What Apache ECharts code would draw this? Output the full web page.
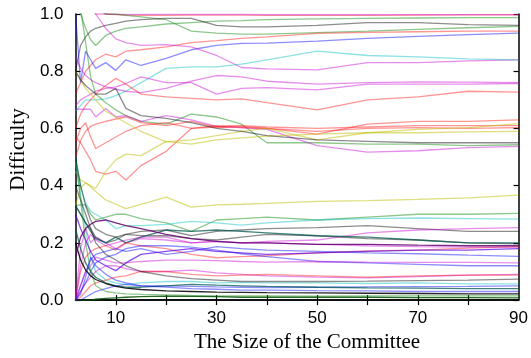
<!DOCTYPE html>
<html>
<head>
<meta charset="utf-8">
<script src="https://cdn.jsdelivr.net/npm/echarts@6/dist/echarts.min.js"></script>
<style>
  html, body { margin: 0; padding: 0; background: #fff; }
  #chart { width: 531px; height: 358px; }
</style>
</head>
<body>
<div id="chart"></div>
<script>
// committee sizes where values were read
const xs = [2, 3, 4, 5, 6, 8, 10, 12, 15, 20, 25, 30, 35, 40, 50, 60, 70, 80, 90];
const xLabels = [10, 30, 50, 70, 90];
const xTicks = [10, 20, 30, 40, 50, 60, 70, 80];

// upper group
const redTop = [1.2, 1.15, 1.1, 1.05, 1.02, 1.0, 0.998, 0.996, 0.995, 0.995, 0.996, 0.996, 0.996, 0.995, 0.995, 0.995, 0.996, 0.997, 0.997];
const magTop = [1.2, 1.1, 1.05, 1.02, 1.0, 1.0, 0.999, 0.999, 0.999, 0.999, 0.999, 0.999, 0.999, 0.998, 0.998, 0.998, 0.998, 0.998, 0.998];
const greenA = [1.05, 1.0, 0.95, 0.91, 0.89, 0.925, 0.94, 0.95, 0.955, 0.965, 0.97, 0.975, 0.977, 0.98, 0.983, 0.985, 0.986, 0.987, 0.987];
const greenB = [1.1, 1.08, 1.06, 1.04, 1.02, 1.0, 1.0, 0.995, 0.99, 0.98, 0.94, 0.933, 0.93, 0.93, 0.935, 0.94, 0.946, 0.952, 0.957];
const grayTop = [0.8, 0.89, 0.92, 0.94, 0.95, 0.96, 0.967, 0.975, 0.98, 0.985, 0.985, 0.96, 0.955, 0.955, 0.96, 0.97, 0.97, 0.963, 0.96];
const red94 = [0.72, 0.76, 0.8, 0.82, 0.84, 0.86, 0.85, 0.87, 0.875, 0.885, 0.9, 0.907, 0.915, 0.92, 0.932, 0.936, 0.938, 0.94, 0.94];
const blue93 = [1.0, 0.76, 0.87, 0.84, 0.81, 0.83, 0.803, 0.84, 0.82, 0.845, 0.875, 0.89, 0.897, 0.898, 0.905, 0.915, 0.922, 0.928, 0.933];
const mag84 = [1.2, 1.15, 1.1, 1.05, 1.0, 0.95, 0.913, 0.9, 0.89, 0.893, 0.885, 0.855, 0.813, 0.808, 0.805, 0.83, 0.83, 0.836, 0.84];
const cyan84 = [0.66, 0.68, 0.7, 0.7, 0.7, 0.703, 0.715, 0.73, 0.76, 0.81, 0.815, 0.815, 0.825, 0.84, 0.87, 0.855, 0.85, 0.843, 0.84];
const mag76a = [0.68, 0.7, 0.71, 0.72, 0.73, 0.74, 0.745, 0.757, 0.78, 0.76, 0.76, 0.72, 0.74, 0.743, 0.735, 0.755, 0.755, 0.755, 0.757];
const mag76b = [0.85, 0.81, 0.785, 0.77, 0.76, 0.745, 0.737, 0.73, 0.725, 0.74, 0.765, 0.785, 0.78, 0.765, 0.755, 0.76, 0.763, 0.762, 0.76];
const red73 = [0.6, 0.65, 0.68, 0.7, 0.72, 0.75, 0.775, 0.755, 0.72, 0.71, 0.705, 0.7, 0.703, 0.69, 0.665, 0.7, 0.71, 0.73, 0.727];

// middle group
const green54 = [1.1, 1.02, 0.9, 0.78, 0.72, 0.69, 0.665, 0.645, 0.625, 0.615, 0.65, 0.64, 0.615, 0.55, 0.55, 0.545, 0.545, 0.54, 0.543];
const mag54 = [0.667, 0.667, 0.667, 0.667, 0.64, 0.67, 0.64, 0.645, 0.625, 0.645, 0.63, 0.607, 0.603, 0.597, 0.54, 0.517, 0.522, 0.533, 0.537];
const red63 = [0.5, 0.557, 0.59, 0.607, 0.615, 0.625, 0.633, 0.64, 0.62, 0.61, 0.625, 0.605, 0.603, 0.6, 0.58, 0.615, 0.625, 0.625, 0.63];
const red60 = [0.55, 0.6, 0.62, 0.57, 0.53, 0.55, 0.57, 0.59, 0.61, 0.62, 0.6, 0.61, 0.607, 0.6, 0.59, 0.6, 0.603, 0.6, 0.603];
const red61 = [0.57, 0.55, 0.52, 0.49, 0.45, 0.44, 0.45, 0.42, 0.47, 0.52, 0.6, 0.605, 0.61, 0.605, 0.6, 0.605, 0.61, 0.61, 0.61];
const yellow62 = [0.8, 0.77, 0.74, 0.72, 0.7, 0.66, 0.64, 0.62, 0.59, 0.553, 0.56, 0.575, 0.59, 0.6, 0.56, 0.585, 0.597, 0.603, 0.617];
const yellow59 = [0.45, 0.42, 0.41, 0.4, 0.39, 0.45, 0.49, 0.51, 0.505, 0.555, 0.545, 0.56, 0.567, 0.573, 0.58, 0.585, 0.585, 0.588, 0.59];
const grayMid = [0.8, 0.77, 0.75, 0.735, 0.72, 0.72, 0.74, 0.67, 0.645, 0.635, 0.62, 0.6, 0.59, 0.575, 0.56, 0.555, 0.55, 0.55, 0.55];
const yellow37 = [0.33, 0.39, 0.41, 0.395, 0.38, 0.35, 0.335, 0.32, 0.335, 0.36, 0.325, 0.333, 0.335, 0.338, 0.345, 0.348, 0.352, 0.357, 0.367];

// lower group
const green30 = [0.33, 0.333, 0.333, 0.3, 0.28, 0.29, 0.3, 0.3, 0.285, 0.27, 0.24, 0.28, 0.285, 0.29, 0.28, 0.29, 0.3, 0.3, 0.303];
const cyan28 = [0.5, 0.4, 0.34, 0.31, 0.3, 0.28, 0.25, 0.26, 0.26, 0.265, 0.275, 0.27, 0.262, 0.27, 0.28, 0.285, 0.287, 0.285, 0.283];
const cyan06 = [0.48, 0.37, 0.25, 0.15, 0.1, 0.07, 0.06, 0.055, 0.06, 0.065, 0.065, 0.06, 0.062, 0.06, 0.06, 0.058, 0.06, 0.057, 0.057];
const gray24 = [0.5, 0.4, 0.33, 0.28, 0.25, 0.23, 0.22, 0.23, 0.24, 0.245, 0.225, 0.24, 0.245, 0.25, 0.253, 0.26, 0.25, 0.24, 0.24];
const gray20 = [0.33, 0.3, 0.27, 0.25, 0.22, 0.2, 0.21, 0.23, 0.225, 0.225, 0.215, 0.21, 0.22, 0.23, 0.225, 0.215, 0.21, 0.2, 0.197];
const mag25 = [0.0, 0.18, 0.25, 0.2, 0.22, 0.2, 0.18, 0.2, 0.215, 0.21, 0.2, 0.205, 0.2, 0.205, 0.21, 0.235, 0.245, 0.25, 0.253];
const teal20 = [0.33, 0.3, 0.27, 0.24, 0.215, 0.2, 0.22, 0.2, 0.22, 0.245, 0.24, 0.245, 0.24, 0.235, 0.225, 0.22, 0.21, 0.2, 0.2];
const red19 = [0.0, 0.1, 0.15, 0.17, 0.18, 0.19, 0.175, 0.2, 0.19, 0.18, 0.16, 0.148, 0.152, 0.155, 0.165, 0.172, 0.175, 0.182, 0.187];
const mag18 = [0.0, 0.12, 0.2, 0.23, 0.21, 0.19, 0.2, 0.21, 0.22, 0.22, 0.2, 0.205, 0.2, 0.2, 0.195, 0.19, 0.187, 0.185, 0.185];
const blue15 = [0.0, 0.05, 0.1, 0.14, 0.16, 0.17, 0.18, 0.17, 0.18, 0.16, 0.17, 0.187, 0.18, 0.175, 0.17, 0.165, 0.162, 0.157, 0.153];
const blue12 = [0.0, 0.03, 0.06, 0.1, 0.13, 0.15, 0.16, 0.18, 0.19, 0.19, 0.185, 0.175, 0.162, 0.152, 0.135, 0.13, 0.125, 0.12, 0.12];
const mag13 = [0.0, 0.05, 0.1, 0.12, 0.15, 0.14, 0.13, 0.13, 0.135, 0.14, 0.14, 0.138, 0.135, 0.133, 0.135, 0.133, 0.132, 0.132, 0.13];
const violet18 = [0.3, 0.25, 0.21, 0.17, 0.14, 0.12, 0.103, 0.13, 0.16, 0.17, 0.18, 0.17, 0.165, 0.16, 0.165, 0.17, 0.175, 0.175, 0.18];
const mag09 = [0.0, 0.03, 0.06, 0.08, 0.1, 0.12, 0.12, 0.11, 0.1, 0.1, 0.105, 0.095, 0.09, 0.085, 0.08, 0.078, 0.082, 0.087, 0.09];
const red09 = [0.0, 0.01, 0.03, 0.05, 0.06, 0.07, 0.08, 0.085, 0.1, 0.1, 0.09, 0.085, 0.087, 0.09, 0.085, 0.08, 0.085, 0.087, 0.087];
const gray07 = [0.4, 0.35, 0.3, 0.25, 0.2, 0.16, 0.14, 0.12, 0.1, 0.085, 0.075, 0.07, 0.065, 0.065, 0.065, 0.066, 0.068, 0.07, 0.073];
const blue05 = [0.0, 0.02, 0.08, 0.15, 0.12, 0.09, 0.07, 0.06, 0.05, 0.05, 0.048, 0.046, 0.045, 0.044, 0.045, 0.046, 0.047, 0.048, 0.05];
const teal04 = [0.25, 0.18, 0.13, 0.1, 0.08, 0.06, 0.05, 0.045, 0.045, 0.05, 0.055, 0.052, 0.05, 0.048, 0.045, 0.043, 0.042, 0.04, 0.04];
const blue03 = [0.0, 0.0, 0.01, 0.02, 0.03, 0.04, 0.05, 0.055, 0.05, 0.045, 0.04, 0.038, 0.035, 0.035, 0.033, 0.032, 0.03, 0.03, 0.03];
const green02 = [0.5, 0.35, 0.2, 0.1, 0.05, 0.03, 0.025, 0.022, 0.02, 0.018, 0.016, 0.015, 0.015, 0.015, 0.014, 0.015, 0.015, 0.015, 0.015];
const dgreen01 = [0.0, 0.0, 0.0, 0.0, 0.003, 0.006, 0.008, 0.01, 0.012, 0.014, 0.013, 0.012, 0.01, 0.01, 0.01, 0.01, 0.009, 0.009, 0.008];
const black02 = [0.2, 0.14, 0.105, 0.085, 0.072, 0.058, 0.048, 0.042, 0.037, 0.032, 0.03, 0.028, 0.027, 0.026, 0.025, 0.024, 0.023, 0.022, 0.022];
const purple19 = [0.15, 0.22, 0.25, 0.265, 0.275, 0.28, 0.27, 0.26, 0.25, 0.23, 0.215, 0.205, 0.2, 0.2, 0.195, 0.195, 0.192, 0.19, 0.19];

const R = "rgba(255,0,0,0.42)";
const G = "rgba(0,130,0,0.45)";
const B = "rgba(0,0,255,0.45)";
const M = "rgba(200,0,210,0.45)";
const C = "rgba(0,190,190,0.45)";
const Y = "rgba(190,190,0,0.5)";
const K = "rgba(0,0,0,0.45)";

const lines = [
  [redTop, R], [magTop, M], [greenA, G], [greenB, G], [grayTop, K],
  [red94, R], [blue93, B], [mag84, M], [cyan84, C], [mag76a, M],
  [mag76b, M], [red73, R], [green54, G], [mag54, M], [red63, R],
  [red60, R], [red61, R], [yellow62, Y], [yellow59, Y], [grayMid, K],
  [yellow37, Y], [green30, G], [cyan28, C], [cyan06, C], [gray24, K],
  [gray20, K], [mag25, M], [teal20, "rgba(0,90,80,0.75)"], [red19, R], [mag18, M],
  [blue15, B], [blue12, B], [mag13, M], [violet18, "rgba(90,0,230,0.7)"], [mag09, M],
  [red09, R], [gray07, K], [blue05, B], [teal04, "rgba(0,90,80,0.75)"], [blue03, B],
  [green02, G], [dgreen01, "rgba(0,80,0,0.85)"], [black02, "rgba(0,0,0,0.85)"],
  [purple19, "rgba(100,0,110,0.85)"]
];

const axisLine = { show: true, lineStyle: { color: "#000", width: 1.5 } };
const labelFont = { color: "#000", fontSize: 17, fontFamily: "Liberation Sans, Arial, sans-serif" };
const nameFont = { color: "#000", fontSize: 21, fontFamily: "Liberation Serif, Times New Roman, serif" };

const chart = echarts.init(document.getElementById("chart"));
chart.setOption({
  animation: false,
  grid: { left: 75, right: 5, top: 14, bottom: 44 },
  xAxis: [
    {
      type: "value", min: 2, max: 90, position: "bottom",
      name: "The Size of the Committee", nameLocation: "middle", nameGap: 27,
      nameTextStyle: Object.assign({ padding: [0, 0, 0, 20] }, nameFont),
      axisLine: axisLine,
      axisTick: { inside: true, length: 5, customValues: xTicks, lineStyle: { color: "#000", width: 1.2 } },
      axisLabel: Object.assign({ customValues: xLabels, margin: 10 }, labelFont),
      splitLine: { show: false }
    },
    {
      type: "value", min: 2, max: 90, position: "top",
      axisLine: axisLine,
      axisTick: { inside: true, length: 5, customValues: xTicks, lineStyle: { color: "#000", width: 1.2 } },
      axisLabel: { show: false },
      splitLine: { show: false }
    }
  ],
  yAxis: [
    {
      type: "value", min: 0, max: 1, interval: 0.2, position: "left",
      name: "Difficulty", nameLocation: "middle", nameGap: 40,
      nameTextStyle: Object.assign({ padding: [0, 0, 0, 15] }, nameFont),
      axisLine: axisLine,
      axisTick: { inside: true, length: 5, lineStyle: { color: "#000", width: 1.2 } },
      axisLabel: Object.assign({ margin: 12, formatter: (v) => v.toFixed(1) }, labelFont),
      splitLine: { show: false }
    },
    {
      type: "value", min: 0, max: 1, interval: 0.2, position: "right",
      axisLine: axisLine,
      axisTick: { inside: true, length: 5, lineStyle: { color: "#000", width: 1.2 } },
      axisLabel: { show: false },
      splitLine: { show: false }
    }
  ],
  series: lines.map(([vals, color]) => ({
    type: "line",
    xAxisIndex: 0,
    yAxisIndex: 0,
    data: xs.map((x, i) => [x, vals[i]]),
    showSymbol: false,
    silent: true,
    clip: true,
    lineStyle: { color: color, width: 1.3 }
  }))
});
</script>
</body>
</html>
